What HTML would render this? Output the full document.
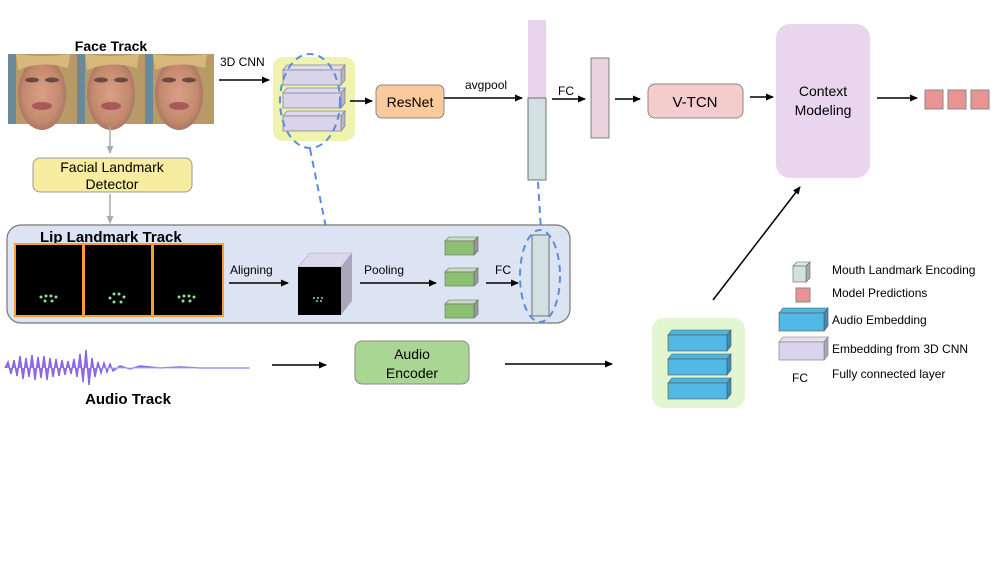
<!DOCTYPE html>
<html><head><meta charset="utf-8"><style>
body{margin:0;background:#fff;width:997px;height:561px;overflow:hidden}
svg text{font-family:"Liberation Sans",sans-serif}
</style></head><body>
<svg width="997" height="561" viewBox="0 0 997 561" xmlns="http://www.w3.org/2000/svg">
<defs>
<marker id="a" markerWidth="8" markerHeight="8" refX="7" refY="4" orient="auto" markerUnits="userSpaceOnUse"><path d="M0,0.5 L8,4 L0,7.5z" fill="#000"/></marker>
<marker id="g" markerWidth="8" markerHeight="8" refX="7" refY="4" orient="auto" markerUnits="userSpaceOnUse"><path d="M0,0.5 L8,4 L0,7.5z" fill="#aaa"/></marker>
<radialGradient id="face" cx="0.5" cy="0.5" r="0.55"><stop offset="0" stop-color="#d9a088"/><stop offset="0.7" stop-color="#c48a6e"/><stop offset="1" stop-color="#a07060"/></radialGradient>
</defs>

<text x="111" y="51" font-size="14" font-weight="bold" text-anchor="middle">Face Track</text>
<g>
<rect x="8" y="54" width="206" height="70" fill="#4a7fa0"/>
<g id="f"><rect x="8" y="54" width="69" height="70" fill="#b89a68"/><rect x="8" y="54" width="8" height="70" fill="#6a8a9a"/><ellipse cx="42" cy="94" rx="24" ry="36" fill="url(#face)"/><ellipse cx="32" cy="80" rx="7" ry="2.5" fill="#6a4a40"/><ellipse cx="52" cy="80" rx="7" ry="2.5" fill="#6a4a40"/><ellipse cx="42" cy="106" rx="10" ry="4" fill="#a85a5a"/><path d="M16,54 Q42,58 70,54 L68,68 Q42,60 18,70z" fill="#d8b87a"/></g>
<use href="#f" x="69"/><use href="#f" x="137"/>
</g>
<line x1="110" y1="126" x2="110" y2="153" stroke="#aaa" stroke-width="1.5" marker-end="url(#g)"/>
<rect x="33" y="158" width="159" height="34" rx="7" fill="#f7ec9f" stroke="#999"/>
<text x="112" y="172" font-size="14" text-anchor="middle">Facial Landmark</text>
<text x="112" y="189" font-size="14" text-anchor="middle">Detector</text>
<line x1="110" y1="194" x2="110" y2="223" stroke="#aaa" stroke-width="1.5" marker-end="url(#g)"/>

<text x="220" y="66" font-size="12">3D CNN</text>
<line x1="219" y1="80" x2="269" y2="80" stroke="#000" stroke-width="1.5" marker-end="url(#a)"/>
<rect x="273" y="57" width="82" height="84" rx="10" fill="#f0f2b0"/>
<g id="s"><polygon points="283,70 287,65 345,65 341,70" fill="#dedaf0" stroke="#888" stroke-width="0.8"/><polygon points="341,70 345,65 345,80 341,85" fill="#b8b4c8" stroke="#888" stroke-width="0.8"/><rect x="283" y="70" width="58" height="15" fill="#d9d4ec" stroke="#888" stroke-width="0.8"/></g>
<use href="#s" y="23"/><use href="#s" y="46"/>
<ellipse cx="310" cy="101" rx="30" ry="47" fill="none" stroke="#5b8ee0" stroke-width="2" stroke-dasharray="7,5"/>
<line x1="310" y1="149" x2="331" y2="252" stroke="#5b8ee0" stroke-width="2" stroke-dasharray="7,5"/>
<line x1="350" y1="101" x2="372" y2="101" stroke="#000" stroke-width="1.5" marker-end="url(#a)"/>
<rect x="376" y="85" width="68" height="33" rx="6" fill="#f9cb9c" stroke="#888"/>
<text x="410" y="107" font-size="14" text-anchor="middle">ResNet</text>
<text x="465" y="89" font-size="12">avgpool</text>
<line x1="444" y1="98" x2="522" y2="98" stroke="#000" stroke-width="1.5" marker-end="url(#a)"/>
<rect x="528" y="20" width="18" height="78" fill="#e9d4ee"/>
<rect x="528" y="98" width="18" height="82" fill="#d3e0e2" stroke="#555" stroke-width="0.8"/>
<line x1="538" y1="182" x2="541" y2="230" stroke="#5b8ee0" stroke-width="2" stroke-dasharray="7,5"/>
<text x="558" y="95" font-size="12">FC</text>
<line x1="552" y1="99" x2="585" y2="99" stroke="#000" stroke-width="1.5" marker-end="url(#a)"/>
<rect x="591" y="58" width="18" height="80" fill="#ecd2dc" stroke="#666" stroke-width="0.8"/>
<line x1="615" y1="99" x2="640" y2="99" stroke="#000" stroke-width="1.5" marker-end="url(#a)"/>
<rect x="648" y="84" width="95" height="34" rx="7" fill="#f4cccc" stroke="#888"/>
<text x="695" y="107" font-size="15" text-anchor="middle">V-TCN</text>
<line x1="750" y1="97" x2="773" y2="97" stroke="#000" stroke-width="1.5" marker-end="url(#a)"/>
<rect x="776" y="24" width="94" height="154" rx="14" fill="#ead5ef"/>
<text x="823" y="96" font-size="14" text-anchor="middle">Context</text>
<text x="823" y="115" font-size="14" text-anchor="middle">Modeling</text>
<line x1="877" y1="98" x2="917" y2="98" stroke="#000" stroke-width="1.5" marker-end="url(#a)"/>
<rect x="925" y="90" width="18" height="19" fill="#e99393" stroke="#888"/>
<rect x="948" y="90" width="18" height="19" fill="#e99393" stroke="#888"/>
<rect x="971" y="90" width="18" height="19" fill="#e99393" stroke="#888"/>

<rect x="7" y="225" width="563" height="98" rx="14" fill="#dce4f4" stroke="#777" stroke-width="1.2"/>
<text x="40" y="242" font-size="15" font-weight="bold">Lip Landmark Track</text>
<g stroke="#f5a030" stroke-width="2" fill="#000">
<rect x="15" y="244" width="68" height="72"/><rect x="84" y="244" width="68" height="72"/><rect x="153" y="244" width="70" height="72"/></g>
<g fill="#8fe08f">
<circle cx="41" cy="297" r="1.5"/><circle cx="46" cy="296" r="1.5"/><circle cx="51" cy="296" r="1.5"/><circle cx="56" cy="297" r="1.5"/><circle cx="45" cy="301" r="1.5"/><circle cx="52" cy="301" r="1.5"/>
<circle cx="110" cy="298" r="1.5"/><circle cx="114" cy="294" r="1.5"/><circle cx="119" cy="294" r="1.5"/><circle cx="124" cy="297" r="1.5"/><circle cx="114" cy="302" r="1.5"/><circle cx="121" cy="302" r="1.5"/>
<circle cx="179" cy="297" r="1.5"/><circle cx="184" cy="296" r="1.5"/><circle cx="189" cy="296" r="1.5"/><circle cx="194" cy="297" r="1.5"/><circle cx="183" cy="301" r="1.5"/><circle cx="190" cy="301" r="1.5"/></g>
<text x="230" y="274" font-size="12">Aligning</text>
<line x1="229" y1="283" x2="288" y2="283" stroke="#000" stroke-width="1.5" marker-end="url(#a)"/>
<polygon points="298,267 310,253 352,253 341,267" fill="#dcd8ec" stroke="#aac" stroke-width="0.6"/>
<polygon points="341,267 352,253 352,301 341,315" fill="#aaa7bb"/>
<rect x="298" y="267" width="43" height="48" fill="#000"/>
<g fill="#8fe08f"><circle cx="314" cy="298" r="1"/><circle cx="318" cy="298" r="1"/><circle cx="322" cy="298" r="1"/><circle cx="317" cy="301" r="1"/><circle cx="321" cy="301" r="1"/></g>
<text x="364" y="274" font-size="12">Pooling</text>
<line x1="360" y1="283" x2="436" y2="283" stroke="#000" stroke-width="1.5" marker-end="url(#a)"/>
<g id="gc"><polygon points="445,241 449,237 478,237 474,241" fill="#c8dcc0" stroke="#666" stroke-width="0.6"/><polygon points="474,241 478,237 478,251 474,255" fill="#999" stroke="#666" stroke-width="0.6"/><rect x="445" y="241" width="29" height="14" fill="#8cc070" stroke="#666" stroke-width="0.6"/></g>
<use href="#gc" y="31"/><use href="#gc" y="63"/>
<text x="495" y="274" font-size="12">FC</text>
<line x1="486" y1="283" x2="518" y2="283" stroke="#000" stroke-width="1.5" marker-end="url(#a)"/>
<rect x="532" y="235" width="17" height="81" fill="#d3e0e2" stroke="#555" stroke-width="0.8"/>
<ellipse cx="540" cy="276" rx="20" ry="46" fill="none" stroke="#5b8ee0" stroke-width="2" stroke-dasharray="7,5"/>

<path d="M5,368 L8,362 11,374 14,360 17,376 20,356 23,379 26,358 29,377 32,355 35,380 38,357 41,378 44,356 47,380 50,358 53,377 56,359 59,376 62,360 65,375 68,361 71,374 74,359 77,377 80,354 83,382 86,350 89,385 92,358 95,377 98,362 101,373 104,363 107,372 110,364 113,371 120,366 130,369 140,366 160,368 180,367 200,368 250,368" fill="#9b7be8" stroke="#8a66e0" stroke-width="1.5"/>
<line x1="100" y1="368" x2="250" y2="368" stroke="#a5b8e8" stroke-width="1"/>
<text x="128" y="404" font-size="15" font-weight="bold" text-anchor="middle">Audio Track</text>
<line x1="272" y1="365" x2="326" y2="365" stroke="#000" stroke-width="1.5" marker-end="url(#a)"/>
<rect x="355" y="341" width="114" height="43" rx="7" fill="#a9d793" stroke="#888"/>
<text x="412" y="359" font-size="14" text-anchor="middle">Audio</text>
<text x="412" y="378" font-size="14" text-anchor="middle">Encoder</text>
<line x1="505" y1="364" x2="612" y2="364" stroke="#000" stroke-width="1.5" marker-end="url(#a)"/>
<rect x="652" y="318" width="93" height="90" rx="12" fill="#e2f7d1"/>
<g id="bs"><polygon points="668,335 672,330 731,330 727,335" fill="#4db5e3" stroke="#555" stroke-width="0.6"/><polygon points="727,335 731,330 731,346 727,351" fill="#3a8fb8" stroke="#555" stroke-width="0.6"/><rect x="668" y="335" width="59" height="16" fill="#52b8e6" stroke="#555" stroke-width="0.6"/></g>
<use href="#bs" y="24"/><use href="#bs" y="48"/>
<line x1="713" y1="300" x2="800" y2="187" stroke="#000" stroke-width="1.5" marker-end="url(#a)"/>

<polygon points="793,266 797,262 810,262 806,266" fill="#dde6e8" stroke="#666" stroke-width="0.6"/><polygon points="806,266 810,262 810,278 806,282" fill="#aaa" stroke="#666" stroke-width="0.6"/><rect x="793" y="266" width="13" height="16" fill="#d3e0e2" stroke="#666" stroke-width="0.6"/>
<rect x="796" y="288" width="14" height="14" fill="#e99393" stroke="#888"/>
<polygon points="779,313 783,308 828,308 824,313" fill="#4db5e3" stroke="#555" stroke-width="0.6"/><polygon points="824,313 828,308 828,326 824,331" fill="#3a8fb8" stroke="#555" stroke-width="0.6"/><rect x="779" y="313" width="45" height="18" fill="#52b8e6" stroke="#555" stroke-width="0.6"/>
<polygon points="779,342 783,337 828,337 824,342" fill="#e5e0f0" stroke="#777" stroke-width="0.6"/><polygon points="824,342 828,337 828,355 824,360" fill="#aaa7bb" stroke="#777" stroke-width="0.6"/><rect x="779" y="342" width="45" height="18" fill="#d9d4ec" stroke="#777" stroke-width="0.6"/>
<g font-size="12"><text x="832" y="274">Mouth Landmark Encoding</text><text x="832" y="297">Model Predictions</text><text x="832" y="324">Audio Embedding</text><text x="832" y="353">Embedding from 3D CNN</text><text x="792" y="382">FC</text><text x="832" y="378">Fully connected layer</text></g>
</svg>
</body></html>
